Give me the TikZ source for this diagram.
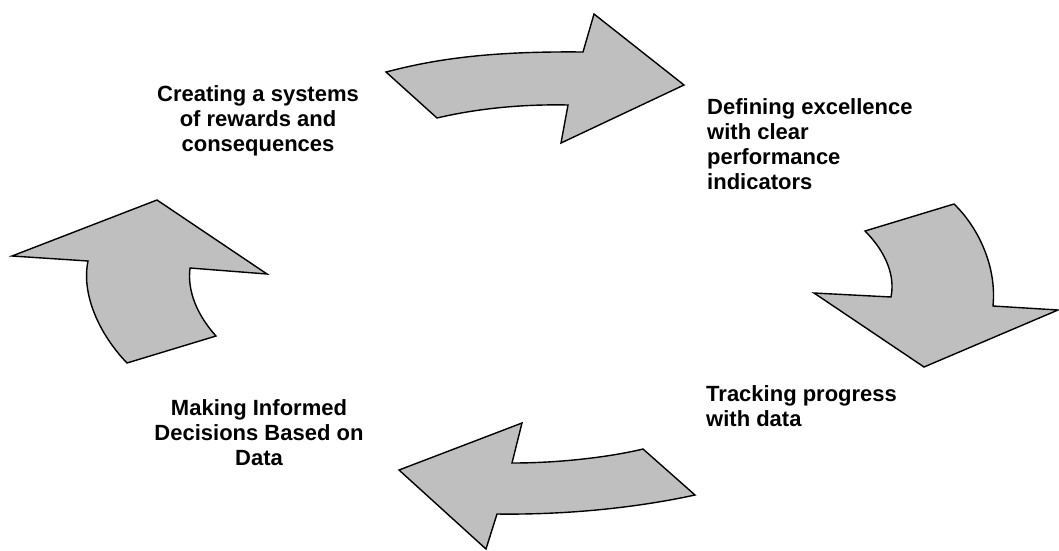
\documentclass[tikz,border=0pt]{standalone}
\usepackage{fontspec}
\setmainfont{Liberation Sans}
\begin{document}
\begin{tikzpicture}[x=1pt,y=-1pt,
  cyclearrow/.style={draw=black,fill=black!25,line width=1.4pt,line join=miter},
  steplabel/.style={inner sep=0pt,font=\bfseries\fontsize{22}{25}\selectfont,anchor=base}]
\useasboundingbox (0,0) rectangle (1059,550);

% top arrow, pointing right
\path[cyclearrow] (386,72) .. controls (432,60) and (485,51) .. (583,52)
  -- (594,14) -- (684,85) -- (561,143) -- (568,105)
  .. controls (520,104) and (475,109) .. (437,118) -- cycle;

% right arrow, pointing down
\path[cyclearrow] (954,204) -- (865,231)
  .. controls (882,248) and (896,272) .. (891,297)
  -- (814,293) -- (924,367) -- (1058,310) -- (993,306)
  .. controls (997,265) and (977,226) .. (954,204) -- cycle;

% bottom arrow, pointing left
\path[cyclearrow] (643,449) .. controls (610,457) and (560,463) .. (512,463)
  -- (522,423) -- (399,470) -- (486,549) -- (497,514)
  .. controls (570,515) and (640,507) .. (695,495) -- cycle;

% left arrow, pointing up
\path[cyclearrow] (127,363) -- (216,336)
  .. controls (198,316) and (187,292) .. (190,268)
  -- (267,274) -- (157,200) -- (12,256) -- (88,261)
  .. controls (81,295) and (100,335) .. (127,363) -- cycle;

% step labels (the base anchor sits on the last line)
\node[steplabel,align=center] (rewards) at (258,151)
  {Creating a systems\\of rewards and\\consequences};
\node[steplabel,align=left,anchor=base west] (excellence) at (707,189)
  {Defining excellence\\with clear\\performance\\indicators};
\node[steplabel,align=left,anchor=base west] (tracking) at (706,426)
  {Tracking progress\\with data};
\node[steplabel,align=center] (decisions) at (259,465)
  {Making Informed\\Decisions Based on\\Data};
\end{tikzpicture}
\end{document}
